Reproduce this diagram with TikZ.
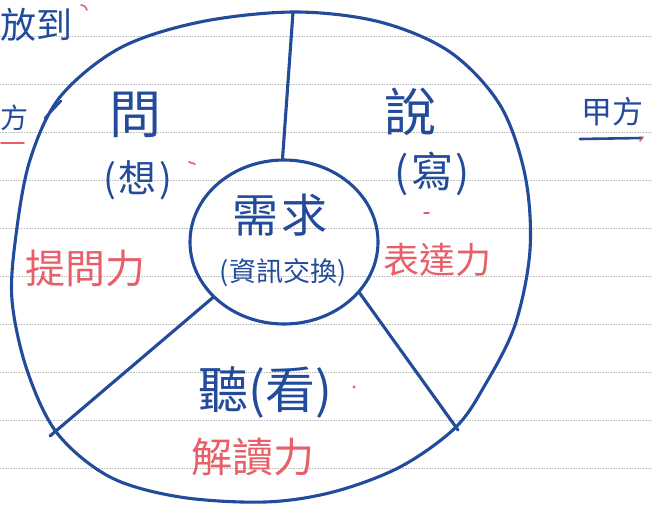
\documentclass[tikz,border=0pt]{standalone}
\usepackage{fontspec}
\usetikzlibrary{shapes.geometric}
\newfontfamily\cjk{Noto Sans CJK TC}
\definecolor{ink}{RGB}{35,75,155}
\definecolor{redink}{RGB}{232,95,105}
\tikzset{
  pen/.style={draw=ink, line width=3.1pt, line cap=round, line join=round},
  blue txt/.style={text=ink, font=\cjk\fontsize{#1}{#1}\selectfont, inner sep=0pt},
  red txt/.style={text=redink, font=\cjk\fontsize{#1}{#1}\selectfont, inner sep=0pt},
  rule/.style={draw=black!25, densely dotted, line width=0.6pt},
  redmark/.style={draw=redink, line width=1.6pt, line cap=round}
}
\begin{document}
\begin{tikzpicture}[x=1pt,y=-1pt]
\useasboundingbox (0,0) rectangle (652,505);
\fill[white] (0,0) rectangle (652,505);
% notebook rules
\foreach \yy in {36,84,132,180,228,276,324,372,420,468}
  \draw[rule] (0,\yy) -- (652,\yy);
% outer hand-drawn circle
\draw[pen] plot[smooth cycle, tension=0.55] coordinates {
  (295,12) (380,22) (450,52) (500,105) (525,175) (530,250) (515,325)
  (485,385) (455,428) (400,467) (333,492) (265,502) (180,497) (110,477)
  (57,433) (27,370) (12,300) (16,235) (30,160) (60,97) (120,48) (200,22)};
% inner circle
\node[pen, ellipse, minimum width=188pt, minimum height=164pt, inner sep=0pt] (inner) at (284,242) {};
% divider ends on the outer circle
\coordinate (otop) at (293,12);
\coordinate (oleft) at (50,436);
\coordinate (oright) at (458,430);
\draw[pen] (inner.91) -- (otop);
\draw[pen] (inner.218) -- (oleft);
\draw[pen] (inner.326) -- (oright);
\coordinate (s1) at (61,101);
\coordinate (s2) at (45,118);
\draw[pen, line width=2.4pt] (s1) -- (s2);
% texts
\node[blue txt=36, anchor=west] (fang) at (0,25) {放到};
\node[blue txt=28, anchor=west] (yi) at (0,118) {方};
\coordinate (yu1) at (1,143);
\coordinate (yu2) at (24,143);
\draw[redmark] (yu1) -- (yu2);
\node[blue txt=52] (wen) at (135,115) {問};
\node[blue txt=38] (xiang) at (138,180) {(\hspace{3pt}想\hspace{3pt})};
\node[blue txt=52] (shuo) at (410,112) {說};
\node[blue txt=42] (xie) at (432,174) {(\hspace{3pt}寫\hspace{2pt})};
\node[blue txt=46] (xuqiu) at (280,215) {需\hspace{3pt}求};
\node[blue txt=27] (zixun) at (283,273) {(資訊交換)};
\node[red txt=40] (tiwen) at (85,268) {提問力};
\node[red txt=36] (biaoda) at (437,260) {表達力};
\node[blue txt=50] (ting) at (265,392) {聽(看)};
\node[red txt=41] (jiedu) at (253,457) {解讀力};
\node[blue txt=31] (jia) at (612,112) {甲方};
\coordinate (ju1) at (580,139);
\coordinate (ju2) at (642,138);
\draw[pen, line width=2.6pt] (ju1) -- (ju2);
% small red marks
\fill[redink] (354,387) circle (1.6pt);
\draw[redmark] (189,162) -- (195,164);
\draw[redmark] (81,5) .. controls (85,6) .. (87,10);
\draw[redmark] (640,141) -- (643,137);
\draw[redmark] (424,213) -- (429,213);
\end{tikzpicture}
\end{document}
